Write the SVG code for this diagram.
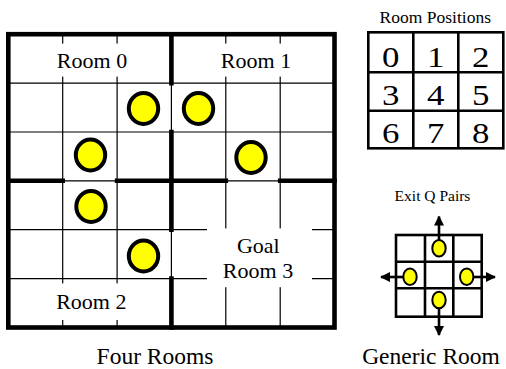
<svg xmlns="http://www.w3.org/2000/svg" width="506" height="369" viewBox="0 0 506 369">
<style>
text{font-family:"Liberation Serif","Times New Roman",serif;fill:#000;text-anchor:middle}
.thin{stroke:#000;stroke-width:1.2;fill:none}
.wall{stroke:#000;stroke-width:4.6;fill:none;stroke-linecap:square}
.bg{fill:#fff}
.coin{fill:#ffff00;stroke:#000;stroke-width:4}
.small{fill:#ffff00;stroke:#000;stroke-width:2}
.g2{stroke:#000;stroke-width:2.6;fill:none}
.lbl{font-size:22px}
.cap{font-size:23.5px}
.dig{font-size:29px}
</style>
<defs>
<marker id="ah" viewBox="0 0 10 10" refX="9" refY="5" markerWidth="10" markerHeight="10" markerUnits="userSpaceOnUse" orient="auto">
<path d="M0,0 L10,5 L0,10 z" fill="#000"/>
</marker>
</defs>
<rect width="506" height="369" fill="#fff"/>

<g id="four-rooms">
<g id="grid-lines">
<path class="thin" d="M62.7,34.2V327.5M117.1,34.2V327.5M171.4,34.2V327.5M225.8,34.2V327.5M280.2,34.2V327.5M8.3,83.1H334.5M8.3,132H334.5M8.3,180.8H334.5M8.3,229.7H334.5M8.3,278.6H334.5"/>
</g>
<g id="label-backgrounds">
<rect class="bg" x="20" y="43.6" width="140" height="33"/>
<rect class="bg" x="183" y="43.6" width="140" height="33"/>
<rect class="bg" x="20" y="283.4" width="140" height="36.6"/>
<rect class="bg" x="207" y="228.4" width="105" height="58.8"/>
</g>
<g id="walls">
<rect class="wall" x="8.3" y="34.2" width="326.2" height="293.3"/>
<path class="wall" d="M171.4,34.2V83.1M171.4,132V229.7M171.4,278.6V327.5M8.3,180.8H62.7M117.1,180.8H225.8M280.2,180.8H334.5"/>
</g>
<g id="room0"><text class="lbl" x="92" y="67.5">Room 0</text></g>
<g id="room1"><text class="lbl" x="256" y="68">Room 1</text></g>
<g id="room2"><text class="lbl" x="91.3" y="309.3">Room 2</text></g>
<g id="room3"><text class="lbl" x="258.3" y="252.7">Goal</text><text class="lbl" x="258" y="278.3">Room 3</text></g>
<g id="coins">
<ellipse class="coin" cx="143.5" cy="108.5" rx="14.7" ry="15.5"/>
<ellipse class="coin" cx="90.5" cy="155" rx="14.7" ry="15.5"/>
<ellipse class="coin" cx="198.5" cy="108.5" rx="14.7" ry="15.5"/>
<ellipse class="coin" cx="251" cy="157.5" rx="14.7" ry="15.5"/>
<ellipse class="coin" cx="91" cy="206.5" rx="14.7" ry="15.5"/>
<ellipse class="coin" cx="143.5" cy="256" rx="14.7" ry="15.5"/>
</g>
<text class="cap" x="155" y="364.3">Four Rooms</text>
</g>

<g id="room-positions">
<text x="435.3" y="23" style="font-size:17.5px">Room Positions</text>
<rect class="g2" x="368.3" y="32.3" width="135" height="116"/>
<path class="g2" d="M413.3,32.3V148.3M458.3,32.3V148.3M368.3,72.3H503.3M368.3,110.7H503.3"/>
<text class="dig" transform="translate(390.8,66.7) scale(1.2,1)">0</text>
<text class="dig" transform="translate(435.8,66.7) scale(1.2,1)">1</text>
<text class="dig" transform="translate(480.8,66.7) scale(1.2,1)">2</text>
<text class="dig" transform="translate(390.8,105) scale(1.2,1)">3</text>
<text class="dig" transform="translate(435.8,105) scale(1.2,1)">4</text>
<text class="dig" transform="translate(480.8,105) scale(1.2,1)">5</text>
<text class="dig" transform="translate(390.8,143.3) scale(1.2,1)">6</text>
<text class="dig" transform="translate(435.8,143.3) scale(1.2,1)">7</text>
<text class="dig" transform="translate(480.8,143.3) scale(1.2,1)">8</text>
</g>

<g id="generic-room">
<text x="432.5" y="201" style="font-size:15.5px">Exit Q Pairs</text>
<rect class="g2" x="396" y="235" width="85.7" height="81.7"/>
<path class="g2" d="M425,235V316.7M453.3,235V316.7M396,261.7H481.7M396,288.3H481.7"/>
<g id="exit-arrows">
<path stroke="#000" stroke-width="2.6" fill="none" marker-end="url(#ah)" d="M439,242V216.5"/>
<path stroke="#000" stroke-width="2.6" fill="none" marker-end="url(#ah)" d="M439,306V335"/>
<path stroke="#000" stroke-width="2.6" fill="none" marker-end="url(#ah)" d="M404,277H381"/>
<path stroke="#000" stroke-width="2.6" fill="none" marker-end="url(#ah)" d="M472,277H495"/>
</g>
<ellipse class="small" cx="439" cy="248.3" rx="6.7" ry="8.3"/>
<ellipse class="small" cx="410" cy="276.7" rx="6.7" ry="8.3"/>
<ellipse class="small" cx="466.7" cy="276.7" rx="6.7" ry="8.3"/>
<ellipse class="small" cx="439" cy="300" rx="6.7" ry="8.3"/>
<text class="cap" x="431" y="364.3">Generic Room</text>
</g>
</svg>
